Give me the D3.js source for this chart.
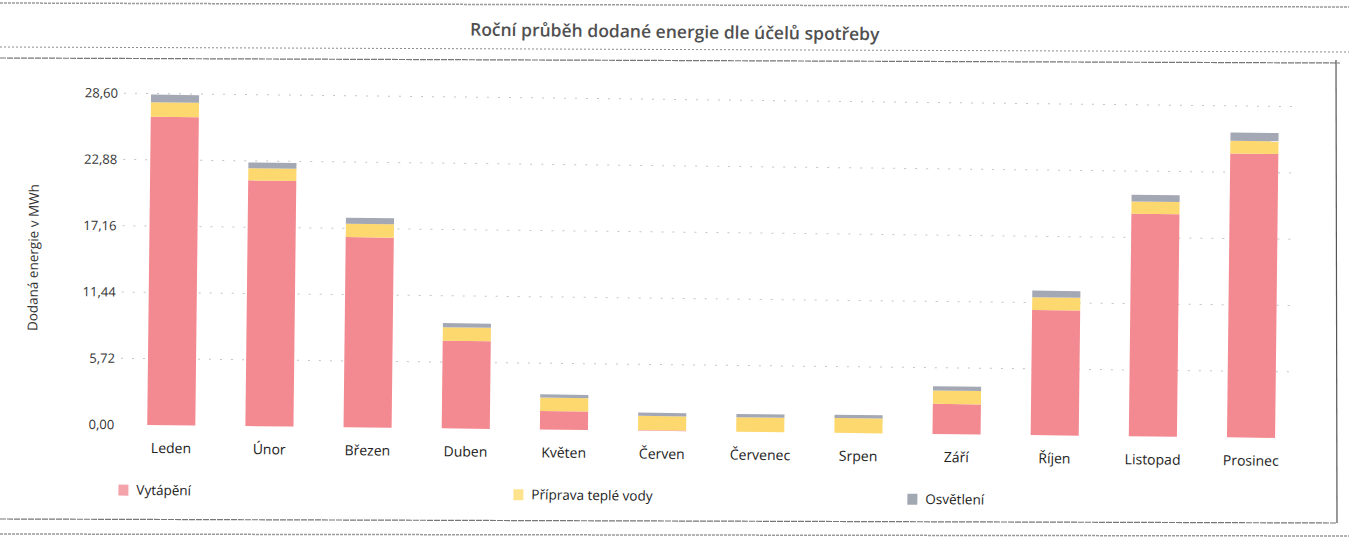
<!DOCTYPE html>
<html>
<head>
<meta charset="utf-8">
<script src="https://cdn.jsdelivr.net/npm/d3@7"></script>
<style>
  html, body { margin: 0; padding: 0; background: #fff; }
  svg { display: block; }
  text { font-family: "Open Sans", "Noto Sans", sans-serif; }
</style>
</head>
<body>
<svg id="chart" width="1349" height="540"></svg>
<script>
// ---- data ----
const months = ["Leden", "Únor", "Březen", "Duben", "Květen", "Červen", "Červenec", "Srpen", "Září", "Říjen", "Listopad", "Prosinec"];
const heating = [26.6, 21.2, 16.4, 7.55, 1.6, 0.05, 0.0, 0.0, 2.6, 10.8, 19.2, 24.5];
const hotWater = [1.25, 1.05, 1.15, 1.18, 1.15, 1.22, 1.25, 1.28, 1.15, 1.1, 1.06, 1.09];
const lighting = [0.65, 0.5, 0.52, 0.35, 0.28, 0.28, 0.28, 0.28, 0.37, 0.57, 0.57, 0.72];
const yTicks = [0, 5.72, 11.44, 17.16, 22.88, 28.60];
const seriesNames = ["Vytápění", "Příprava teplé vody", "Osvětlení"];
const seriesKeys = ["heating", "hotWater", "lighting"];
const title = "Roční průběh dodané energie dle účelů spotřeby";
const yTitle = "Dodaná energie v MWh";

const barColors = ["#F48A91", "#FDD86E", "#A4A8B4"];
const legendColors = ["#F5A3AB", "#FDE38C", "#A2A8B2"];

const rows = months.map((m, i) => ({ month: m, heating: heating[i], hotWater: hotWater[i], lighting: lighting[i] }));
const stacked = d3.stack().keys(seriesKeys)(rows);

const svg = d3.select("#chart");

// frame (scanned document borders, drawn unrotated)
const frame = svg.append("g");
frame.append("line").attr("x1", 0).attr("x2", 1349).attr("y1", 3).attr("y2", 7)
  .attr("stroke", "#9a9a9a").attr("stroke-width", 1.5).attr("stroke-dasharray", "3,1");
frame.append("line").attr("x1", 0).attr("x2", 1349).attr("y1", 47).attr("y2", 52)
  .attr("stroke", "#8a8a8a").attr("stroke-width", 1).attr("stroke-dasharray", "2,2");
frame.append("line").attr("x1", 0).attr("x2", 1340).attr("y1", 58).attr("y2", 63)
  .attr("stroke", "#777").attr("stroke-width", 1.2).attr("stroke-dasharray", "6,1");
frame.append("line").attr("x1", 1336).attr("x2", 1337).attr("y1", 60).attr("y2", 523)
  .attr("stroke", "#555").attr("stroke-width", 1.2);
frame.append("line").attr("x1", 0).attr("x2", 1337).attr("y1", 519).attr("y2", 523)
  .attr("stroke", "#777").attr("stroke-width", 1.2).attr("stroke-dasharray", "6,1");
frame.append("line").attr("x1", 0).attr("x2", 1349).attr("y1", 534).attr("y2", 536)
  .attr("stroke", "#9a9a9a").attr("stroke-width", 1.5).attr("stroke-dasharray", "3,1");

const root = svg.append("g").attr("transform", "rotate(0.66, 675, 270)");

// title
root.append("text").attr("x", 672).attr("y", 38).attr("text-anchor", "middle")
  .attr("font-size", 17.5).attr("font-weight", 600).attr("fill", "#505050")
  .text(title);

// scales
const x = d3.scaleBand().domain(months).range([124, 1302]).paddingInner(0.51).paddingOuter(0.255);
const y = d3.scaleLinear().domain([0, 28.6]).range([431, 99.5]);

// gridlines
root.append("g").selectAll("line").data(yTicks.slice(1)).join("line")
  .attr("x1", 122).attr("x2", 1292)
  .attr("y1", d => y(d)).attr("y2", d => y(d))
  .attr("stroke", "#c4c4c4").attr("stroke-width", 1).attr("stroke-dasharray", "2,9");

// y axis
const yAxis = d3.axisLeft(y).tickValues(yTicks).tickSize(0).tickPadding(0)
  .tickFormat(d => d3.format(".2f")(d).replace(".", ","));
const yg = root.append("g").attr("transform", "translate(116,0)").call(yAxis);
yg.select(".domain").remove();
yg.selectAll("text").attr("font-size", 13).attr("fill", "#333").attr("font-family", "\"Open Sans\", sans-serif");

root.append("text").attr("transform", "translate(38,265) rotate(-90)")
  .attr("text-anchor", "middle").attr("font-size", 13.5).attr("fill", "#333").text(yTitle);

// bars
root.append("g").selectAll("g").data(stacked).join("g")
  .attr("fill", (d, i) => barColors[i])
  .selectAll("rect").data(d => d).join("rect")
  .attr("x", d => x(d.data.month))
  .attr("width", x.bandwidth())
  .attr("y", d => y(d[1]))
  .attr("height", d => Math.max(0, y(d[0]) - y(d[1])));

// x axis labels
const xAxis = d3.axisBottom(x).tickSize(0).tickPadding(0);
const xg = root.append("g").attr("transform", "translate(0,449)").call(xAxis);
xg.select(".domain").remove();
xg.selectAll("text").attr("font-size", 14).attr("fill", "#222").attr("font-family", "\"Open Sans\", sans-serif");

// legend
const legendX = [121, 516, 910];
const lg = root.append("g").selectAll("g").data(seriesNames).join("g")
  .attr("transform", (d, i) => `translate(${legendX[i]},491)`);
lg.append("rect").attr("width", 10).attr("height", 11).attr("fill", (d, i) => legendColors[i]);
lg.append("text").attr("x", 18).attr("y", 10).attr("font-size", 13.5).attr("fill", "#222").text(d => d);
</script>
</body>
</html>
